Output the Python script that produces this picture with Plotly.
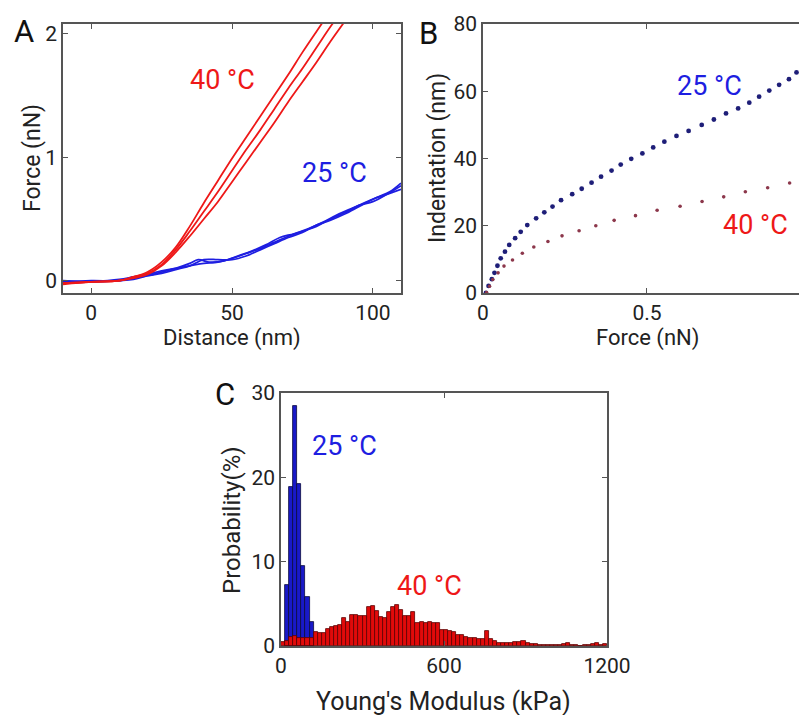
import plotly.graph_objects as go

# ---------------- Panel A: force-distance curves ----------------
red_x1 = [-10, 0, 10, 15, 20, 25, 30, 35, 40, 45, 50, 55, 60, 65, 70, 75, 80, 83]
red_y1 = [-0.02, -0.01, 0.0, 0.03, 0.07, 0.15, 0.27, 0.44, 0.63, 0.81, 0.99, 1.16, 1.33, 1.50, 1.67, 1.85, 2.02, 2.12]
red_x2 = [-10, 0, 10, 15, 20, 25, 30, 35, 40, 45, 50, 55, 60, 65, 70, 75, 80, 85, 87]
red_y2 = [-0.02, -0.01, 0.0, 0.03, 0.06, 0.13, 0.25, 0.40, 0.56, 0.72, 0.89, 1.06, 1.22, 1.39, 1.56, 1.72, 1.89, 2.06, 2.12]
red_x3 = [-10, 0, 10, 15, 20, 25, 30, 35, 40, 45, 50, 55, 60, 65, 70, 75, 80, 85, 90]
red_y3 = [-0.03, -0.01, 0.0, 0.02, 0.05, 0.12, 0.23, 0.36, 0.50, 0.64, 0.80, 0.96, 1.12, 1.28, 1.45, 1.61, 1.77, 1.94, 2.10]

blue_x1 = [-10, 0, 10, 15, 20, 25, 30, 35, 38, 42, 47, 52, 57, 62, 67, 72, 77, 82, 87, 92, 97, 102, 106, 110]
blue_y1 = [-0.01, 0.0, 0.0, 0.02, 0.04, 0.07, 0.10, 0.14, 0.17, 0.15, 0.16, 0.20, 0.24, 0.29, 0.35, 0.38, 0.42, 0.47, 0.53, 0.58, 0.63, 0.68, 0.72, 0.79]
blue_x2 = [-10, 0, 10, 15, 20, 25, 30, 35, 40, 45, 50, 55, 60, 65, 70, 75, 80, 85, 90, 95, 100, 105, 110]
blue_y2 = [-0.02, -0.01, 0.01, 0.03, 0.05, 0.08, 0.10, 0.12, 0.14, 0.15, 0.18, 0.22, 0.26, 0.31, 0.36, 0.40, 0.44, 0.50, 0.55, 0.61, 0.64, 0.70, 0.77]
blue_x3 = [-10, 0, 10, 15, 20, 25, 30, 35, 40, 45, 50, 55, 60, 65, 70, 75, 80, 85, 90, 95, 100, 105, 110]
blue_y3 = [0.0, -0.01, 0.0, 0.01, 0.04, 0.06, 0.09, 0.12, 0.17, 0.17, 0.17, 0.20, 0.25, 0.30, 0.35, 0.39, 0.45, 0.49, 0.54, 0.60, 0.66, 0.70, 0.74]

# ---------------- Panel B: indentation vs force ----------------
b25_force = [0.009, 0.017, 0.027, 0.035, 0.044, 0.054, 0.067, 0.080, 0.098, 0.115, 0.135, 0.162, 0.187,
             0.212, 0.238, 0.272, 0.301, 0.331, 0.360, 0.392, 0.420, 0.452, 0.486, 0.519, 0.553, 0.590,
             0.627, 0.667, 0.704, 0.741, 0.778, 0.812, 0.842, 0.873, 0.903, 0.933, 0.956, 0.985]
b25_indent = [0.0, 2.1, 4.1, 6.0, 8.1, 10.3, 12.3, 14.3, 16.3, 18.2, 20.2, 22.2, 24.0,
              25.7, 27.6, 29.4, 31.0, 32.8, 34.6, 36.4, 38.2, 39.9, 41.5, 43.3, 45.0, 46.7,
              48.2, 50.0, 51.6, 53.4, 54.9, 56.6, 58.4, 60.2, 61.9, 63.6, 65.6, 67.3]
b40_force = [0.011, 0.020, 0.030, 0.046, 0.064, 0.090, 0.120, 0.155, 0.198, 0.241, 0.293, 0.344, 0.400,
             0.465, 0.531, 0.601, 0.668, 0.734, 0.800, 0.868, 0.935]
b40_indent = [0.1, 2.0, 4.0, 6.0, 8.0, 9.8, 11.8, 13.7, 15.3, 17.0, 18.5, 20.0, 21.6,
              23.0, 24.6, 25.8, 27.2, 28.6, 30.1, 31.3, 32.7]

# ---------------- Panel C: Young's modulus histograms ----------------
bin_width = 15
blue_centers = [22.5, 37.5, 52.5, 67.5, 82.5, 97.5, 112.5]
blue_prob = [7.2, 18.9, 28.4, 19.2, 9.5, 5.8, 2.8]
red_centers = [7.5 + 15 * k for k in range(80)]
red_prob = [0.5, 0.6, 1.1, 1.2, 1.0, 0.9, 0.9, 1.0, 1.7, 1.6,
            1.6, 2.0, 2.3, 2.4, 2.5, 3.3, 2.9, 3.7, 3.7, 3.5,
            3.6, 4.6, 4.7, 4.1, 3.4, 3.3, 4.0, 4.6, 4.9, 4.3,
            3.5, 3.6, 4.0, 2.7, 2.8, 2.7, 2.9, 2.7, 2.7, 1.9,
            1.9, 1.8, 1.7, 1.3, 1.3, 1.1, 0.9, 0.9, 0.8, 0.8,
            1.8, 0.8, 0.6, 0.4, 0.3, 0.4, 0.4, 0.5, 0.5, 0.6,
            0.3, 0.2, 0.2, 0.15, 0.15, 0.1, 0.15, 0.1, 0.1, 0.2,
            0.4, 0.1, 0.1, 0.05, 0.1, 0.1, 0.2, 0.3, 0.1, 0.2]

RED = "rgb(238,24,24)"
BLUE = "rgb(30,30,225)"
FONT = "Roboto"
TXT = "#222222"
OFF = 8                      # page body margin of the html page
W, H = 807 - OFF, 715 - OFF

fig = go.Figure()

for xs, ys in [(blue_x1, blue_y1), (blue_x2, blue_y2), (blue_x3, blue_y3)]:
    fig.add_trace(go.Scatter(x=xs, y=ys, mode="lines", line=dict(color=BLUE, width=1.8, shape="spline"),
                             xaxis="x", yaxis="y", showlegend=False))
for xs, ys in [(red_x1, red_y1), (red_x2, red_y2), (red_x3, red_y3)]:
    fig.add_trace(go.Scatter(x=xs, y=ys, mode="lines", line=dict(color=RED, width=1.8, shape="spline"),
                             xaxis="x", yaxis="y", showlegend=False))

fig.add_trace(go.Scatter(x=b25_force, y=b25_indent, mode="markers",
                         marker=dict(color="rgb(30,30,120)", size=4.8), xaxis="x2", yaxis="y2", showlegend=False))
fig.add_trace(go.Scatter(x=b40_force, y=b40_indent, mode="markers",
                         marker=dict(color="rgb(140,55,75)", size=3.6), xaxis="x2", yaxis="y2", showlegend=False))

fig.add_trace(go.Bar(x=blue_centers, y=blue_prob, width=bin_width,
                     marker=dict(color="rgb(25,25,200)", line=dict(color="rgb(10,10,60)", width=0.8)),
                     xaxis="x3", yaxis="y3", showlegend=False))
fig.add_trace(go.Bar(x=red_centers, y=red_prob, width=bin_width,
                     marker=dict(color="rgb(225,10,10)", line=dict(color="rgb(90,0,0)", width=0.8)),
                     xaxis="x3", yaxis="y3", showlegend=False))


def px_x(p):
    return min(1.0, (p - OFF) / W)


def px_y(p):
    return 1 - (p - OFF) / H


axis_common = dict(showline=True, linecolor="#555555", linewidth=1.5, ticks="inside", ticklen=5,
                   tickcolor="#555555", showgrid=False, zeroline=False, automargin=False,
                   tickfont=dict(family=FONT, size=21, color=TXT))

fig.update_layout(
    width=W, height=H, margin=dict(l=0, r=0, t=0, b=0),
    paper_bgcolor="white", plot_bgcolor="white", barmode="overlay", bargap=0,
    font=dict(family=FONT, color=TXT),
    xaxis=dict(domain=[px_x(63), px_x(401)], range=[-10, 110], tickvals=[0, 50, 100], mirror="ticks",
               anchor="y", **axis_common),
    yaxis=dict(domain=[px_y(293), px_y(24)], range=[-0.1, 2.08], tickvals=[0, 1, 2], mirror="ticks",
               anchor="x", **axis_common),
    xaxis2=dict(domain=[px_x(483), 1.0], range=[0, 0.988], tickvals=[0, 0.5], ticktext=["0", "0.5"],
                mirror="ticks", anchor="y2", **axis_common),
    yaxis2=dict(domain=[px_y(293), px_y(24)], range=[0, 80], tickvals=[0, 20, 40, 60, 80], mirror=False,
                anchor="x2", **axis_common),
    xaxis3=dict(domain=[px_x(281), px_x(607)], range=[0, 1200], tickvals=[0, 600, 1200], mirror="ticks",
                anchor="y3", **axis_common),
    yaxis3=dict(domain=[px_y(646), px_y(393)], range=[0, 30], tickvals=[0, 10, 20, 30], mirror="ticks",
                anchor="x3", **axis_common),
)

ann = []
lab = dict(size=27, family=FONT)
centre = dict(showarrow=False, xanchor="center", yanchor="middle")
ann.append(dict(x=46.6, y=1.63, xref="x", yref="y", text="40 °C", font=dict(color=RED, **lab), **centre))
ann.append(dict(x=86.5, y=0.87, xref="x", yref="y", text="25 °C", font=dict(color=BLUE, **lab), **centre))
ann.append(dict(x=0.692, y=61.6, xref="x2", yref="y2", text="25 °C", font=dict(color=BLUE, **lab), **centre))
ann.append(dict(x=0.832, y=20.2, xref="x2", yref="y2", text="40 °C", font=dict(color=RED, **lab), **centre))
ann.append(dict(x=232, y=23.7, xref="x3", yref="y3", text="25 °C", font=dict(color=BLUE, **lab), **centre))
ann.append(dict(x=548, y=7.1, xref="x3", yref="y3", text="40 °C", font=dict(color=RED, **lab), **centre))

# axis titles (placed in pixel-derived paper coordinates)
titles = [
    ("Distance (nm)", 232, 338, 0, 22),
    ("Force (nN)", 32, 158, -90, 23),
    ("Force (nN)", 647, 338, 0, 22),
    ("Indentation (nm)", 437, 158, -90, 23),
    ("Young's Modulus (kPa)", 444, 701, 0, 25),
    ("Probability(%)", 232, 520, -90, 24),
]
for t, tx, ty, ang, fs in titles:
    ann.append(dict(x=px_x(tx), y=px_y(ty), xref="paper", yref="paper", text=t, textangle=ang,
                    font=dict(size=fs, family=FONT, color=TXT), **centre))

for letter, (lx, ly) in {"A": (24, 32), "B": (428, 33), "C": (225, 394)}.items():
    ann.append(dict(x=px_x(lx), y=px_y(ly), xref="paper", yref="paper", text=letter,
                    font=dict(size=31, family=FONT, color="#111111"), **centre))
fig.update_layout(annotations=ann)

fig.write_html("out.html")
